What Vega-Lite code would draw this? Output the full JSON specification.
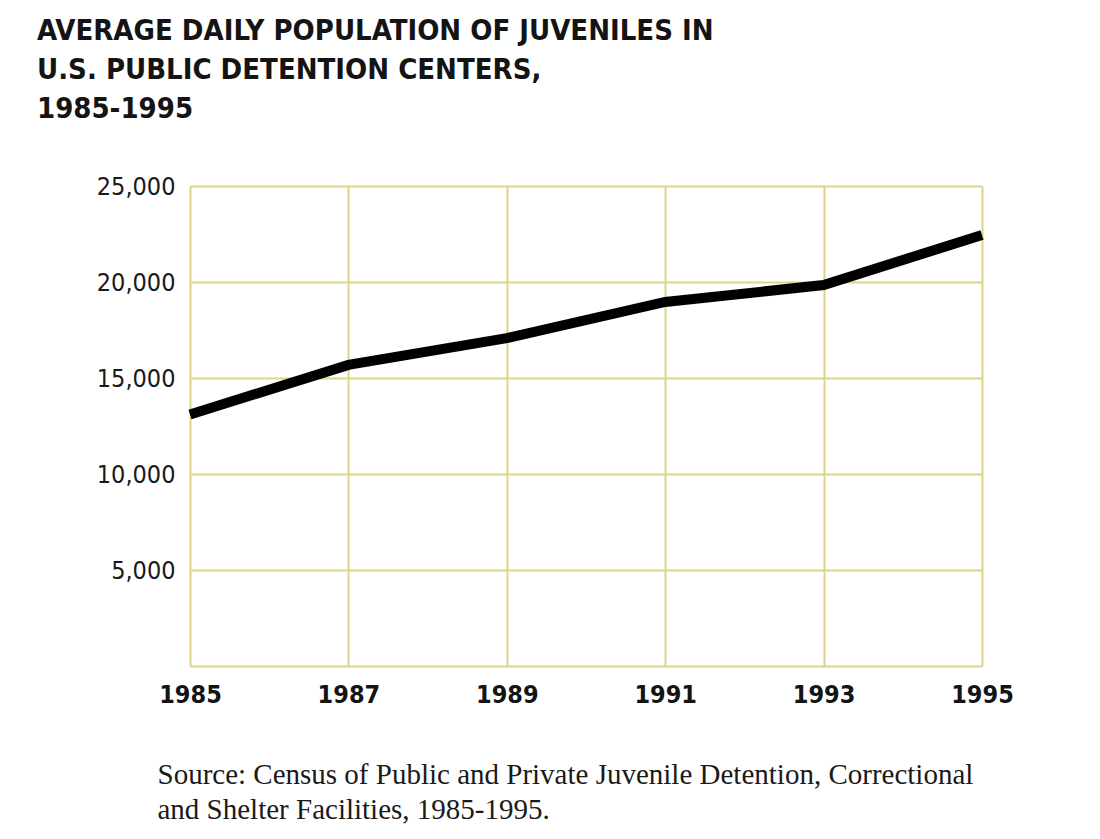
{
  "$schema": "https://vega.github.io/schema/vega-lite/v6.json",
  "width": 792,
  "height": 480,
  "autosize": {"type": "none"},
  "padding": {"left": 190, "top": 186, "right": 118, "bottom": 173},
  "background": "white",
  "title": {
    "text": ["AVERAGE DAILY POPULATION OF JUVENILES IN", "U.S. PUBLIC DETENTION CENTERS,", "1985-1995"],
    "anchor": "start",
    "frame": "group",
    "dx": -153,
    "offset": 50,
    "lineHeight": 39,
    "font": "DejaVu Sans Condensed, sans-serif",
    "fontSize": 29,
    "fontWeight": "bold",
    "color": "#141414"
  },
  "data": {
    "values": [
      {"year": 1985, "population": 13100},
      {"year": 1987, "population": 15680},
      {"year": 1989, "population": 17080},
      {"year": 1991, "population": 18960},
      {"year": 1993, "population": 19840},
      {"year": 1995, "population": 22450}
    ]
  },
  "mark": {"type": "line", "color": "#000000", "strokeWidth": 10, "strokeCap": "butt", "strokeJoin": "miter"},
  "encoding": {
    "x": {
      "field": "year",
      "type": "quantitative",
      "scale": {"domain": [1985, 1995], "nice": false, "zero": false},
      "axis": {
        "values": [1985, 1987, 1989, 1991, 1993, 1995],
        "format": "d",
        "domain": false,
        "ticks": false,
        "grid": true,
        "gridColor": "#ddd48a",
        "gridWidth": 2,
        "labelFont": "DejaVu Sans Condensed, sans-serif",
        "labelFontWeight": "bold",
        "labelFontSize": 25,
        "labelColor": "#141414",
        "labelPadding": 16,
        "labelFlush": false,
        "title": ["Source: Census of Public and Private Juvenile Detention, Correctional", "and Shelter Facilities, 1985-1995."],
        "titleFont": "Liberation Serif, DejaVu Serif, serif",
        "titleFontSize": 29,
        "titleFontWeight": "normal",
        "titleColor": "#1a1a1a",
        "titleAnchor": "start",
        "titleAlign": "left",
        "titleBaseline": "alphabetic",
        "titleX": -33,
        "titleY": 117,
        "titleLineHeight": 35
      }
    },
    "y": {
      "field": "population",
      "type": "quantitative",
      "scale": {"domain": [0, 25000], "nice": false},
      "axis": {
        "values": [0, 5000, 10000, 15000, 20000, 25000],
        "labelExpr": "datum.value == 0 ? '' : format(datum.value, ',')",
        "domain": false,
        "ticks": false,
        "grid": true,
        "gridColor": "#ddd48a",
        "gridWidth": 2,
        "labelFont": "DejaVu Sans Condensed, sans-serif",
        "labelFontSize": 25,
        "labelColor": "#1a1a1a",
        "labelPadding": 15,
        "labelFlush": false,
        "title": null
      }
    }
  },
  "config": {"view": {"stroke": null}}
}
